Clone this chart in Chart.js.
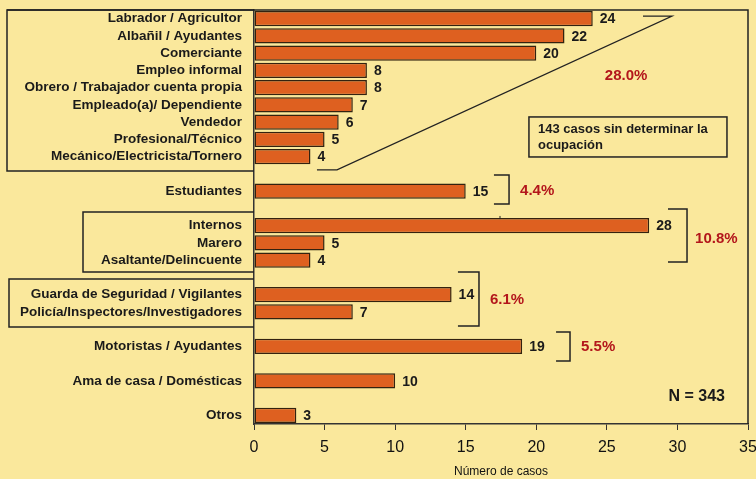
<!DOCTYPE html>
<html>
<head>
<meta charset="utf-8">
<script src="https://cdn.jsdelivr.net/npm/chart.js@4/dist/chart.umd.min.js"></script>
<style>
html,body{margin:0;padding:0;background:#FAE89C;}
#wrap{width:756px;height:479px;}
</style>
</head>
<body>
<div id="wrap"><canvas id="c" width="756" height="479"></canvas></div>
<script>
// Categories ('' = spacer rows between groups)
const categories = [
  'Labrador / Agricultor','Albañil / Ayudantes','Comerciante','Empleo informal',
  'Obrero / Trabajador cuenta propia','Empleado(a)/ Dependiente','Vendedor',
  'Profesional/Técnico','Mecánico/Electricista/Tornero','',
  'Estudiantes','',
  'Internos','Marero','Asaltante/Delincuente','',
  'Guarda de Seguridad / Vigilantes','Policía/Inspectores/Investigadores','',
  'Motoristas / Ayudantes','',
  'Ama de casa / Domésticas','',
  'Otros'
];
const casos = [24,22,20,8,8,7,6,5,4,null,15,null,28,5,4,null,14,7,null,19,null,10,null,3];
const xTicks = [0,5,10,15,20,25,30,35];
const groupPercents = ['28.0%','4.4%','10.8%','6.1%','5.5%'];
const noteLines = ['143 casos sin determinar la','ocupación'];
const totalLabel = 'N = 343';
const axisTitle = 'Número de casos';

const BG = '#FAE89C';
const BAR = '#DE6020';
const RED = '#B3161B';
const INK = '#1a1a1a';

const decor = {
  id:'decor',
  beforeDraw(chart){
    const c = chart.ctx;
    c.save();
    c.fillStyle = BG;
    c.fillRect(0,0,chart.width,chart.height);
    c.restore();
  },
  afterDatasetsDraw(chart){
    const c = chart.ctx;
    const xs = chart.scales.x, ys = chart.scales.y;
    const X = v => xs.getPixelForValue(v);
    const Y = i => ys.getPixelForValue(i);
    const ca = chart.chartArea;
    c.save();
    // value labels
    c.font = 'bold 14px "Liberation Sans", Arial, sans-serif';
    c.fillStyle = INK;
    c.textBaseline = 'middle';
    c.textAlign = 'left';
    chart.getDatasetMeta(0).data.forEach((bar,i)=>{
      const v = casos[i];
      if (v === null || v === undefined) return;
      c.fillText(String(v), bar.x + 7, bar.y + 1);
    });
    // frame top + right
    c.strokeStyle = '#222';
    c.lineWidth = 1.5;
    c.beginPath();
    c.moveTo(7, ca.top); c.lineTo(ca.right, ca.top); c.lineTo(ca.right, ca.bottom);
    c.stroke();
    // label boxes
    c.lineWidth = 1.5;
    const box = (lx, i0, i1) => {
      c.beginPath();
      c.moveTo(ca.left, Y(i0)); c.lineTo(lx, Y(i0)); c.lineTo(lx, Y(i1)); c.lineTo(ca.left, Y(i1));
      c.stroke();
    };
    box(7, -0.5, 8.83);
    box(83, 11.21, 14.69);
    box(9, 15.09, 17.88);
    // top diagonal bracket
    c.lineWidth = 1.2;
    c.beginPath();
    c.moveTo(X(27.56), Y(-0.15)); c.lineTo(X(29.62), Y(-0.15));
    c.lineTo(X(5.88), Y(8.77)); c.lineTo(X(4.46), Y(8.77));
    c.stroke();
    // right brackets
    c.lineWidth = 1.5;
    const br = (x0, x1, i0, i1) => {
      c.beginPath();
      c.moveTo(X(x0), Y(i0)); c.lineTo(X(x1), Y(i0)); c.lineTo(X(x1), Y(i1)); c.lineTo(X(x0), Y(i1));
      c.stroke();
    };
    br(17.0, 18.07, 9.07, 10.75);
    br(29.33, 30.68, 11.04, 14.11);
    br(14.45, 15.94, 14.69, 17.82);
    br(21.4, 22.39, 18.17, 19.85);
    // tiny mark
    c.lineWidth = 1;
    c.beginPath(); c.moveTo(X(17.43), Y(11.44)); c.lineTo(X(17.43), Y(11.62)); c.stroke();
    // percents
    c.fillStyle = RED;
    c.font = 'bold 15px "Liberation Sans", Arial, sans-serif';
    c.textAlign = 'center';
    c.fillText(groupPercents[0], X(26.36), Y(3.33));
    c.textAlign = 'left';
    c.fillText(groupPercents[1], X(18.85), Y(9.99));
    c.fillText(groupPercents[2], X(31.25), Y(12.78));
    c.fillText(groupPercents[3], X(16.72), Y(16.31));
    c.fillText(groupPercents[4], X(23.17), Y(19.04));
    // note box
    c.strokeStyle = '#222';
    c.lineWidth = 1.5;
    c.strokeRect(X(19.48), Y(5.70), X(33.51)-X(19.48), Y(8.02)-Y(5.70));
    c.fillStyle = INK;
    c.font = 'bold 13px "Liberation Sans", Arial, sans-serif';
    c.fillText(noteLines[0], X(20.12), Y(6.40));
    c.fillText(noteLines[1], X(20.12), Y(7.33));
    // N
    c.font = 'bold 16px "Liberation Sans", Arial, sans-serif';
    c.textAlign = 'right';
    c.fillText(totalLabel, X(33.37), Y(21.94));
    c.restore();
  }
};

new Chart(document.getElementById('c'), {
  type:'bar',
  data:{
    labels: categories,
    datasets:[{
      data: casos,
      backgroundColor: BAR,
      borderColor: '#33220f',
      borderWidth: 1.5,
      borderSkipped: false,
      barPercentage: 0.9,
      categoryPercentage: 0.97
    }]
  },
  options:{
    indexAxis:'y',
    responsive:false,
    animation:false,
    devicePixelRatio:1,
    layout:{padding:{top:10,right:8,left:0,bottom:0}},
    plugins:{legend:{display:false},tooltip:{enabled:false}},
    scales:{
      x:{
        type:'linear', min:0, max:35,
        afterBuildTicks(s){ s.ticks = xTicks.map(v=>({value:v})); },
        afterFit(s){ s.height = 55; s.paddingLeft = 0; s.paddingRight = 0; },
        grid:{drawOnChartArea:false, drawTicks:true, tickLength:6, color:'#333', lineWidth:1},
        border:{display:true, color:'#333', width:1.5},
        ticks:{font:{family:'"Liberation Sans", Arial, sans-serif', size:16}, color:'#111', padding:8, maxRotation:0, autoSkip:false},
        title:{display:true, text:axisTitle, color:'#111', font:{family:'"Liberation Sans", Arial, sans-serif', size:12}, padding:{top:0,bottom:0}}
      },
      y:{
        type:'category',
        afterFit(s){ s.width = 254; s.paddingTop = 0; s.paddingBottom = 0; },
        grid:{drawOnChartArea:false, drawTicks:false},
        border:{display:true, color:'#333', width:1.5},
        ticks:{font:{family:'"Liberation Sans", Arial, sans-serif', size:13.5, weight:'bold'}, color:INK, padding:12, autoSkip:false}
      }
    }
  },
  plugins:[decor]
});
</script>
</body>
</html>
